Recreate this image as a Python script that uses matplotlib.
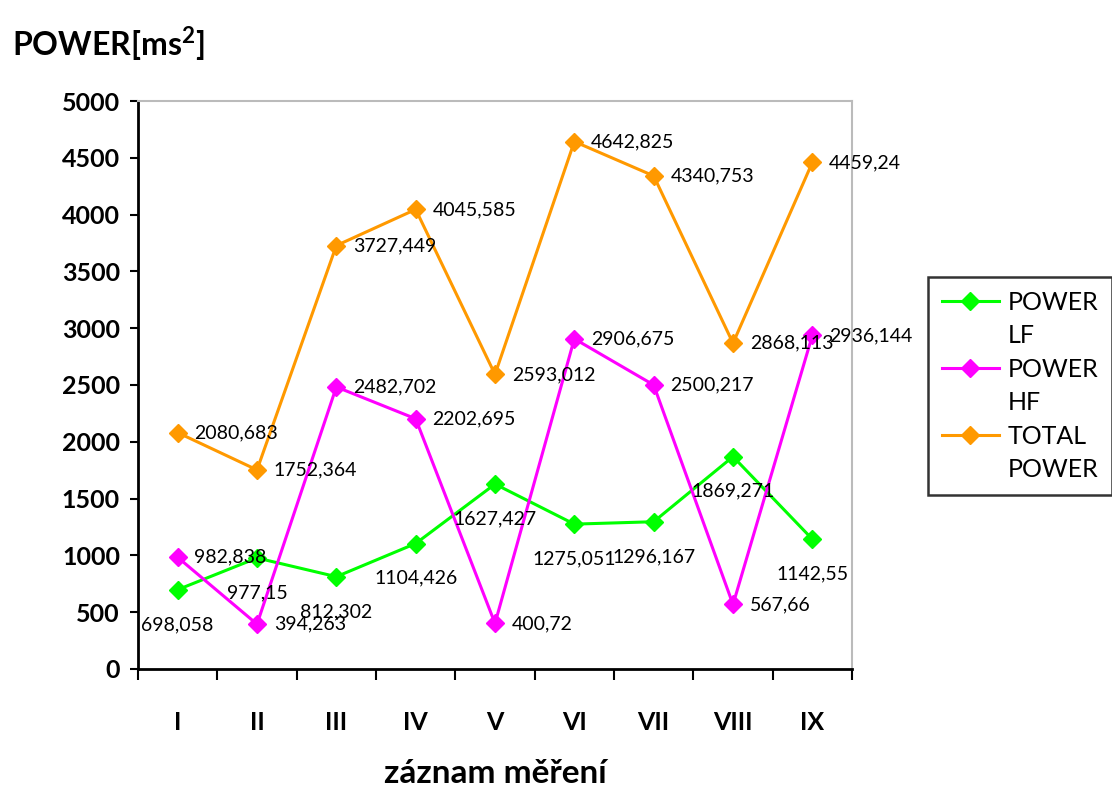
import numpy as np
import matplotlib.pyplot as plt
from matplotlib.lines import Line2D
from matplotlib.ticker import FixedLocator

plt.rcParams['font.family'] = ['Lato', 'DejaVu Sans']
plt.rcParams['mathtext.fontset'] = 'custom'
plt.rcParams['mathtext.bf'] = 'Lato:bold'
plt.rcParams['mathtext.rm'] = 'Lato'

categories = ["I", "II", "III", "IV", "V", "VI", "VII", "VIII", "IX"]
power_lf = [698.058, 977.15, 812.302, 1104.426, 1627.427, 1275.051, 1296.167, 1869.271, 1142.55]
power_hf = [982.838, 394.263, 2482.702, 2202.695, 400.72, 2906.675, 2500.217, 567.66, 2936.144]
total_power = [2080.683, 1752.364, 3727.449, 4045.585, 2593.012, 4642.825, 4340.753, 2868.113, 4459.24]
series_names = [("POWER", "LF"), ("POWER", "HF"), ("TOTAL", "POWER")]


def fmt(v):
    s = f"{v:.3f}".rstrip("0").rstrip(".")
    return s.replace(".", ",")


fig = plt.figure(figsize=(11.12, 7.86), dpi=100)
ax = fig.add_axes([0.1241, 0.1489, 0.6421, 0.7226])

x = np.arange(len(categories))
series = [
    (power_lf, "#00ff00", "below"),
    (power_hf, "#ff00ff", "right"),
    (total_power, "#ff9900", "right"),
]
handles, labels = [], []
for (vals, col, pos), name in zip(series, series_names):
    ln, = ax.plot(x, vals, color=col, lw=2.2, marker="D", ms=9)
    handles += [ln, Line2D([], [], linestyle="none")]
    labels += list(name)
    for xi, v in zip(x, vals):
        if pos == "below":
            ax.annotate(fmt(v), (xi, v), xytext=(0, -25), textcoords="offset points",
                        ha="center", va="center", fontsize=14)
        else:
            ax.annotate(fmt(v), (xi, v), xytext=(12, 0), textcoords="offset points",
                        ha="left", va="center", fontsize=14)

ax.set_xlim(-0.5, 8.5)
ax.set_ylim(0, 5000)
ax.set_yticks(np.arange(0, 5001, 500))
ax.tick_params(axis="y", labelsize=18, width=1.5, length=6, direction="out", pad=7)
for t in ax.get_yticklabels():
    t.set_fontweight("bold")

ax.xaxis.set_major_locator(FixedLocator(np.arange(-0.5, 9, 1)))
ax.xaxis.set_ticklabels([])
ax.set_xticks(x, minor=True)
ax.set_xticklabels(categories, minor=True, fontsize=18, fontweight="bold")
ax.tick_params(axis="x", which="major", width=1.5, length=8, direction="out")
ax.tick_params(axis="x", which="minor", length=0, pad=30)

ax.spines["left"].set_linewidth(2)
ax.spines["bottom"].set_linewidth(2)
ax.spines["top"].set_color("#bbbbbb")
ax.spines["right"].set_color("#bbbbbb")
ax.spines["top"].set_linewidth(1.5)
ax.spines["right"].set_linewidth(1.5)

fig.text(0.011, 0.945, "POWER[ms$^{\\mathbf{2}}$]", fontsize=23, fontweight="bold",
         ha="left", va="center")
fig.text(0.445, 0.0165, "záznam měření", fontsize=24, fontweight="bold",
         ha="center", va="center")

leg = fig.legend(handles, labels, loc="upper left", bbox_to_anchor=(0.8345, 0.6476),
                 fontsize=18, frameon=True, fancybox=False, edgecolor="black",
                 borderpad=0.55, handlelength=2.3, labelspacing=0.42, handletextpad=0.35,
                 borderaxespad=0)
leg.get_frame().set_linewidth(1.8)

fig.savefig("out.png", dpi=100)
